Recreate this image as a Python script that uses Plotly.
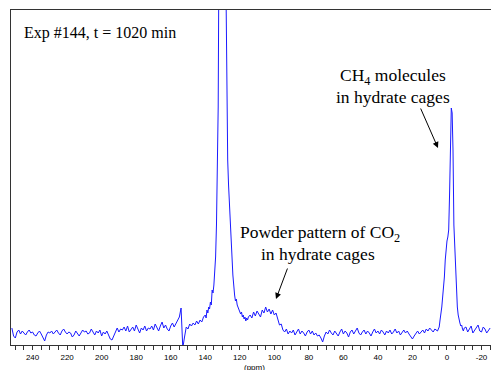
import plotly.graph_objects as go

# ---- data (chemical shift in ppm, intensity in arbitrary units) ----
ppm_seg1 = [252 - i for i in range(112)]               # 252 .. 141
int_seg1 = [17, 9, 7, 13, 15, 11, 14, 12, 10, 13,
            15, 12, 13, 10, 9, 12, 14, 11, 8, 4,
            10, 13, 12, 14, 11, 13, 15, 12, 10, 14,
            16, 13, 11, 13, 12, 8, 10, 14, 12, 9,
            12, 15, 13, 14, 11, 12, 16, 13, 10, 14,
            12, 15, 9, 13, 11, 14, 10, 6, 5, 9,
            14, 17, 13, 16, 15, 18, 14, 19, 13, 16,
            18, 14, 20, 16, 12, 17, 15, 19, 14, 17,
            16, 19, 15, 21, 18, 14, 19, 23, 17, 20,
            16, 14, 19, 22, 18, 21, 24, 28, 37, -3,
            8, 18, 16, 21, 19, 22, 20, 24, 21, 25,
            23, 28]

ppm_seg2 = [140 - 0.5 * i for i in range(51)]          # 140 .. 115
int_seg2 = [30, 27, 35, 32, 38, 36, 43, 40, 55, 52,
            60, 75, 88, 120, 178, 238, 420, 700, 900, 1100,
            1200, 1150, 950, 600, 360, 250, 185, 160, 140, 112,
            92, 88, 70, 55, 50, 44, 46, 40, 38, 36,
            34, 31, 33, 28, 30, 26, 28, 24, 27, 25,
            28]

ppm_seg3 = [114 - i for i in range(109)]               # 114 .. 6
int_seg3 = [30, 27, 33, 29, 34, 31, 28, 35, 32, 38,
            33, 36, 31, 35, 30, 32, 27, 20, 21, 15,
            13, 16, 11, 14, 12, 15, 10, 13, 16, 11,
            14, 12, 9, 13, 15, 11, 14, 10, 12, 9,
            10, 7, 3, 9, 13, 11, 15, 12, 10, 14,
            12, 9, 13, 16, 11, 14, 12, 8, 13, 15,
            11, 14, 17, 12, 10, 13, 15, 11, 14, 12,
            9, 13, 16, 12, 14, 11, 15, 13, 10, 14,
            12, 15, 11, 13, 16, 12, 14, 10, 13, 15,
            12, 14, 11, 8, 6, 9, 12, 14, 11, 13,
            15, 12, 16, 14, 17, 15, 13, 16, 15]

ppm_seg4 = [5.5 - 0.5 * i for i in range(32)]          # 5.5 .. -10
int_seg4 = [14, 16, 18, 25, 30, 38, 48, 55, 68, 85,
            98, 104, 108, 115, 150, 200, 237, 232, 195, 120,
            95, 70, 52, 38, 30, 24, 22, 19, 20, 16,
            14, 17]

ppm_seg5 = [-11 - i for i in range(15)]                # -11 .. -25
int_seg5 = [18, 13, 16, 19, 12, 15, 17, 20, 14, 13, 18, 16, 12, 15, 17]

ppm = ppm_seg1 + ppm_seg2 + ppm_seg3 + ppm_seg4 + ppm_seg5
intensity = int_seg1 + int_seg2 + int_seg3 + int_seg4 + int_seg5

tick_vals = [240, 220, 200, 180, 160, 140, 120, 100, 80, 60, 40, 20, 0, -20]
tick_text = [str(v) for v in tick_vals]

# ---- layout geometry (pixels) ----
W, H = 491, 370
L, R, T, B = 11, 0, 10, 25
PW, PH = W - L - R, H - T - B


def px(x):
    return (x - L) / PW


def py(y):
    return 1 - (y - T) / PH


SERIF = "Liberation Serif, Times New Roman, serif"
SANS = "Liberation Sans, Arial, sans-serif"


def label(text, x, y, size=17.5):
    return dict(x=px(x), y=py(y), xref="paper", yref="paper", xanchor="center",
                yanchor="middle", text=text, showarrow=False,
                font=dict(family=SERIF, size=size, color="black"))


fig = go.Figure()
fig.add_trace(go.Scatter(x=ppm, y=intensity, mode="lines",
                         line=dict(color="#1a1aff", width=1),
                         hoverinfo="skip", showlegend=False))

annotations = [
    label("Exp #144, t = 1020 min", 100, 33, 16),
    label("CH<sub>4</sub> molecules", 393, 76),
    label("in hydrate cages", 393, 97),
    label("Powder pattern of CO<sub>2</sub>", 320, 233),
    label("in hydrate cages", 318, 254),
    dict(x=px(438), y=py(148), xref="paper", yref="paper", text="",
         showarrow=True, ax=-18, ay=-41, arrowhead=2, arrowsize=1.2,
         arrowwidth=1, arrowcolor="black"),
    dict(x=px(276), y=py(299), xref="paper", yref="paper", text="",
         showarrow=True, ax=12, ay=-32, arrowhead=2, arrowsize=1.2,
         arrowwidth=1, arrowcolor="black"),
    dict(x=px(254), y=py(361), xref="paper", yref="paper", xanchor="center", yanchor="top",
         text="(ppm)", showarrow=False, font=dict(family=SANS, size=8, color="black")),
]

fig.update_layout(
    width=W, height=H,
    margin=dict(l=L, r=R, t=T, b=B, pad=0),
    paper_bgcolor="white", plot_bgcolor="white",
    annotations=annotations,
    xaxis=dict(range=[252.5, -25.5], showgrid=False, zeroline=False,
               showline=True, linecolor="#333333", linewidth=1, mirror=True,
               ticks="outside", ticklen=4, tickcolor="#333333", tickwidth=1,
               tickvals=tick_vals, ticktext=tick_text,
               minor=dict(dtick=5, ticks="outside", ticklen=4, tickcolor="#333333", showgrid=False),
               tickfont=dict(family=SANS, size=8, color="black")),
    yaxis=dict(range=[0, 335], showgrid=False, zeroline=False,
               showline=True, linecolor="#333333", linewidth=1,
               showticklabels=False, ticks=""),
)

fig.write_html("out.html")
